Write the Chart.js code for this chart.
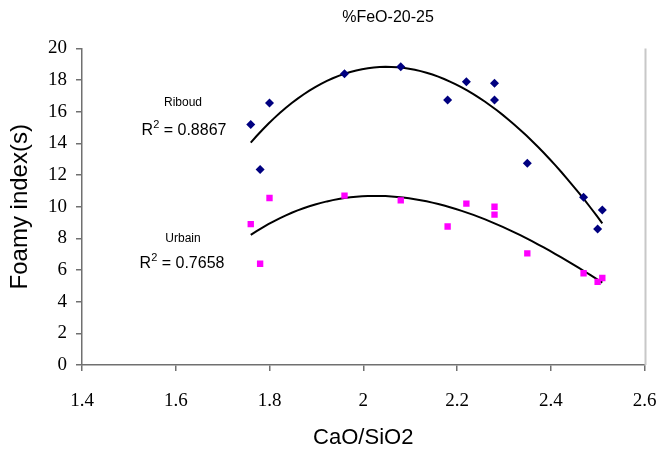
<!DOCTYPE html>
<html>
<head>
<meta charset="utf-8">
<script src="https://cdn.jsdelivr.net/npm/chart.js@4"></script>
<style>
  html, body { margin: 0; padding: 0; background: #fff; }
  #wrap { width: 657px; height: 452px; }
</style>
</head>
<body>
<div id="wrap"><canvas id="chart" width="657" height="452"></canvas></div>
<script>
// --- Data ---
const ribX = [1.76, 1.78, 1.80, 1.96, 2.08, 2.18, 2.22, 2.28, 2.28, 2.35, 2.47, 2.50, 2.51];
const ribY = [15.2, 12.35, 16.55, 18.4, 18.85, 16.75, 17.9, 17.8, 16.75, 12.75, 10.6, 8.6, 9.8];
const urbX = [1.76, 1.78, 1.80, 1.96, 2.08, 2.18, 2.22, 2.28, 2.28, 2.35, 2.47, 2.50, 2.51];
const urbY = [8.9, 6.4, 10.55, 10.7, 10.4, 8.75, 10.2, 10.0, 9.5, 7.05, 5.8, 5.25, 5.5];

// trendline polynomial order per series
const ribOrder = 3;
const urbOrder = 3;

const titleText = '%FeO-20-25';
const xTitle = 'CaO/SiO2';
const yTitle = 'Foamy index(s)';
const ribLabel = 'Riboud';
const ribR2 = '0.8867';
const urbLabel = 'Urbain';
const urbR2 = '0.7658';

// --- least squares polynomial trendline (like the spreadsheet's) ---
function polyFit(xs, ys, order) {
    const n = order + 1;
    const x0 = 2; // centre x to keep the normal equations well behaved
    const m = [];
    for (let r = 0; r < n; r++) {
        m.push([]);
        for (let c = 0; c < n; c++) {
            let s = 0;
            xs.forEach(x => { s += Math.pow(x - x0, r + c); });
            m[r].push(s);
        }
        let s = 0;
        xs.forEach((x, i) => { s += Math.pow(x - x0, r) * ys[i]; });
        m[r].push(s);
    }
    for (let i = 0; i < n; i++) {
        let p = i;
        for (let k = i + 1; k < n; k++) if (Math.abs(m[k][i]) > Math.abs(m[p][i])) p = k;
        [m[i], m[p]] = [m[p], m[i]];
        for (let k = i + 1; k < n; k++) {
            const f = m[k][i] / m[i][i];
            for (let c = i; c <= n; c++) m[k][c] -= f * m[i][c];
        }
    }
    const coef = new Array(n).fill(0);
    for (let i = n - 1; i >= 0; i--) {
        let s = m[i][n];
        for (let c = i + 1; c < n; c++) s -= m[i][c] * coef[c];
        coef[i] = s / m[i][i];
    }
    return x => coef.reduce((acc, a, k) => acc + a * Math.pow(x - x0, k), 0);
}

function trendPoints(xs, ys, order) {
    const f = polyFit(xs, ys, order);
    const lo = Math.min(...xs), hi = Math.max(...xs);
    const pts = [];
    for (let i = 0; i <= 60; i++) {
        const x = lo + (hi - lo) * i / 60;
        pts.push({ x: x, y: f(x) });
    }
    return pts;
}

const toPts = (xs, ys) => xs.map((x, i) => ({ x: x, y: ys[i] }));

// --- extra text: title, trendline labels, right border ---
const extras = {
    id: 'extras',
    afterDraw(chart) {
        const c = chart.ctx;
        const area = chart.chartArea;
        c.save();
        c.strokeStyle = '#c8c8c8';
        c.lineWidth = 2;
        c.beginPath();
        c.moveTo(area.right + 1, area.top);
        c.lineTo(area.right + 1, area.bottom);
        c.stroke();

        c.fillStyle = '#000';
        c.textAlign = 'center';
        c.textBaseline = 'middle';
        c.font = '16px "Liberation Sans", Arial, sans-serif';
        c.fillText(titleText, 388, 18);

        c.font = '12px "Liberation Sans", Arial, sans-serif';
        c.fillText(ribLabel, 183, 103);
        c.fillText(urbLabel, 183, 239);

        // "R² = value" centred on cx
        function r2(text, cx, y) {
            const big = '16px "Liberation Sans", Arial, sans-serif';
            const small = '11px "Liberation Sans", Arial, sans-serif';
            c.textAlign = 'left';
            c.font = big;
            const wR = c.measureText('R').width;
            const wRest = c.measureText(' = ' + text).width;
            c.font = small;
            const w2 = c.measureText('2').width;
            let x = cx - (wR + w2 + wRest) / 2;
            c.font = big;
            c.fillText('R', x, y);
            c.font = small;
            c.fillText('2', x + wR, y - 6);
            c.font = big;
            c.fillText(' = ' + text, x + wR + w2, y);
        }
        r2(ribR2, 184, 131);
        r2(urbR2, 182, 264);
        c.restore();
    }
};

const axisGray = '#707070';
const tickFont = { family: '"Liberation Serif", "Times New Roman", serif', size: 19 };

new Chart(document.getElementById('chart'), {
    type: 'scatter',
    data: {
        datasets: [
            {
                label: 'Riboud',
                data: toPts(ribX, ribY),
                pointStyle: 'rectRot',
                pointRadius: 4.5,
                backgroundColor: '#000080',
                borderColor: '#000080',
                borderWidth: 0
            },
            {
                label: 'Urbain',
                data: toPts(urbX, urbY),
                pointStyle: 'rect',
                pointRadius: 4.5,
                backgroundColor: '#ff00ff',
                borderColor: '#ff00ff',
                borderWidth: 0
            },
            {
                type: 'line',
                label: 'Riboud fit',
                data: trendPoints(ribX, ribY, ribOrder),
                borderColor: '#000',
                borderWidth: 2,
                pointRadius: 0,
                tension: 0,
                fill: false
            },
            {
                type: 'line',
                label: 'Urbain fit',
                data: trendPoints(urbX, urbY, urbOrder),
                borderColor: '#000',
                borderWidth: 2,
                pointRadius: 0,
                tension: 0,
                fill: false
            }
        ]
    },
    options: {
        responsive: false,
        animation: false,
        layout: { padding: { left: 0, right: 12.5, top: 48.5, bottom: 0 } },
        plugins: {
            legend: { display: false },
            tooltip: { enabled: false },
            title: { display: false }
        },
        scales: {
            x: {
                type: 'linear',
                min: 1.4,
                max: 2.6,
                afterFit: s => { s.height = 87; s.paddingLeft = 0; s.paddingRight = 0; },
                ticks: {
                    stepSize: 0.2,
                    padding: 19,
                    color: '#000',
                    font: tickFont,
                    maxRotation: 0,
                    callback: v => String(Number(v.toFixed(1)))
                },
                grid: { drawOnChartArea: false, drawTicks: true, tickLength: 6, color: axisGray, lineWidth: 1.5 },
                border: { display: true, color: axisGray, width: 1.5 },
                title: {
                    display: true,
                    text: xTitle,
                    color: '#000',
                    font: { family: '"Liberation Sans", Arial, sans-serif', size: 22 },
                    padding: { top: 0, bottom: 1 }
                }
            },
            y: {
                min: 0,
                max: 20,
                afterFit: s => { s.width = 82; },
                ticks: {
                    stepSize: 2,
                    padding: 9,
                    color: '#000',
                    font: tickFont
                },
                grid: { drawOnChartArea: false, drawTicks: true, tickLength: 6, color: axisGray, lineWidth: 1.5 },
                border: { display: true, color: axisGray, width: 1.5 },
                title: {
                    display: true,
                    text: yTitle,
                    color: '#000',
                    font: { family: '"Liberation Sans", Arial, sans-serif', size: 24 },
                    padding: { top: 6, bottom: 0 }
                }
            }
        }
    },
    plugins: [extras]
});
</script>
</body>
</html>
